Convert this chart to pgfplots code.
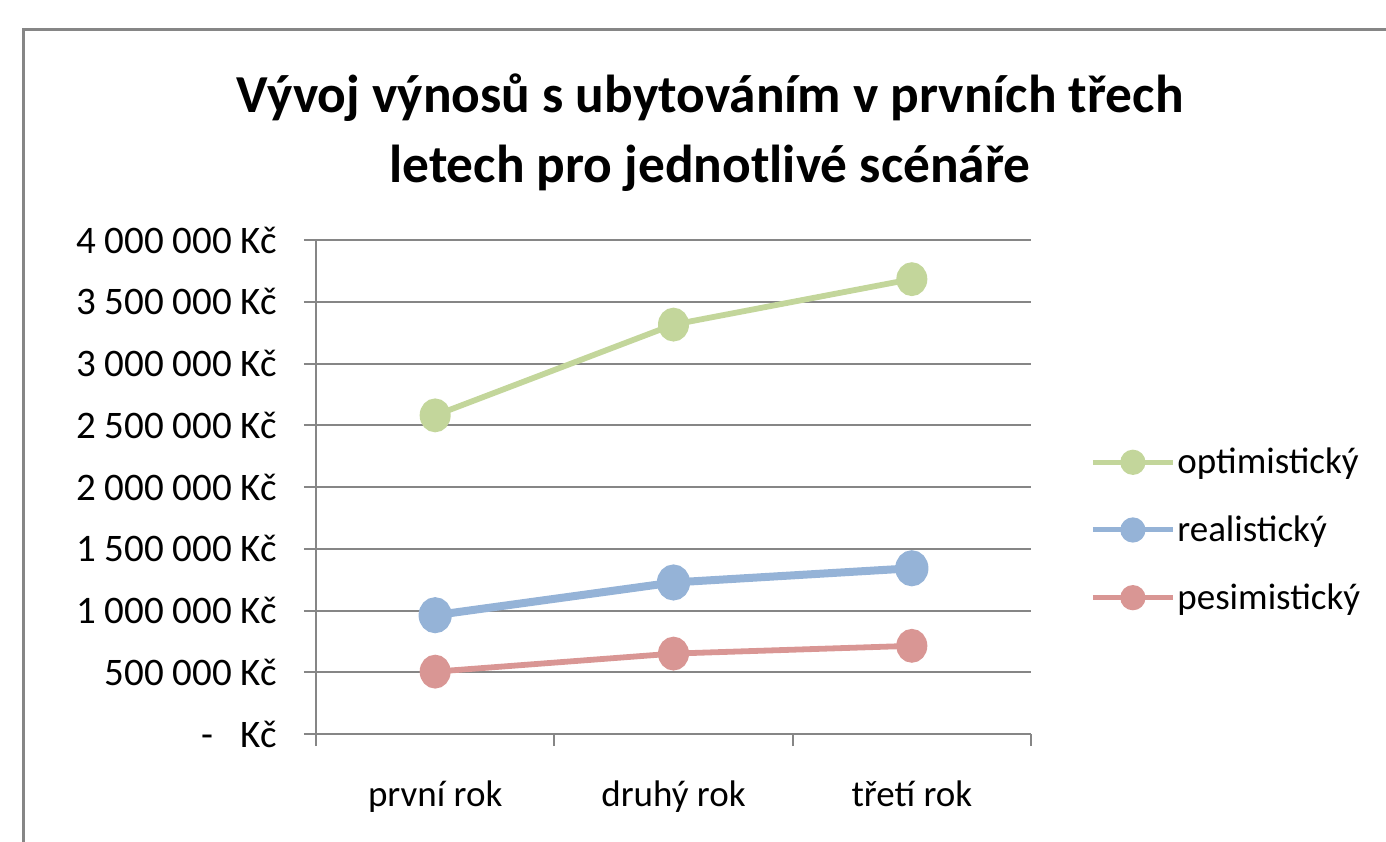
\documentclass[border=0pt]{standalone}
\usepackage{pgfplots}
\pgfplotsset{compat=1.18}
\usepackage{fontspec}
\setmainfont{Carlito}
\definecolor{optc}{RGB}{195,214,155}
\definecolor{realc}{RGB}{149,179,215}
\definecolor{pesc}{RGB}{217,150,148}
\definecolor{gridc}{RGB}{134,134,134}
\definecolor{framec}{RGB}{134,134,134}
\begin{document}
\begin{tikzpicture}[x=0.5pt,y=0.5pt]
\useasboundingbox (0,0) rectangle (1386,841);
\draw[color=framec, line width=1.5pt] (23,-10) -- (23,811) -- (1400,811);
\node[align=center, font=\fontsize{26.7}{35}\selectfont\bfseries] at (710,708) {Vývoj výnosů s ubytováním v prvních třech\\letech pro jednotlivé scénáře};
\begin{axis}[
  at={(158pt,53.5pt)}, anchor=south west,
  scale only axis, width=357.5pt, height=247pt,
  font=\fontsize{18.5}{22}\selectfont,
  xmin=0, xmax=3, ymin=0, ymax=4000000,
  scaled y ticks=false,
  axis x line*=bottom, axis y line*=left,
  axis line style={draw=gridc, line width=1pt},
  ymajorgrids, grid style={draw=gridc, line width=1pt},
  tick align=outside, major tick length=6pt,
  tick style={draw=gridc, line width=1pt},
  xtick={0,1,2,3},
  xticklabels={první rok, druhý rok, třetí rok},
  x tick label as interval,
  xticklabel style={yshift=-14pt},
  ytick={0,500000,1000000,1500000,2000000,2500000,3000000,3500000,4000000},
  yticklabels={{-\hspace{14pt}Kč},{500 000 Kč},{1 000 000 Kč},{1 500 000 Kč},{2 000 000 Kč},{2 500 000 Kč},{3 000 000 Kč},{3 500 000 Kč},{4 000 000 Kč}},
  yticklabel style={xshift=-10pt, font=\fontsize{19.5}{22}\selectfont},
  clip=false,
  legend style={at={(1.0825,0.413)}, anchor=west, draw=none, fill=none,
    font=\fontsize{18.5}{22}\selectfont, row sep=17.5pt, inner sep=0pt,
    nodes={inner sep=1pt}},
  legend cell align=left,
  legend image code/.code={\draw[mark repeat=2, mark phase=2, #1, line width=2.5pt, mark options={scale=0.72}] plot coordinates {(0pt,0pt) (20pt,0pt) (40pt,0pt)};},
]
\addplot[color=optc, line width=2.9pt, mark=*, mark size=7pt, mark options={fill=optc, draw=optc, xscale=0.9}]
  coordinates {(0.5,2580000) (1.5,3315000) (2.5,3683000)};
\addlegendentry{optimistický}
\addplot[color=realc, line width=4pt, mark=*, mark size=7pt, mark options={fill=realc, draw=realc, xscale=0.9}]
  coordinates {(0.5,962000) (1.5,1227000) (2.5,1342000)};
\addlegendentry{realistický}
\addplot[color=pesc, line width=2.9pt, mark=*, mark size=7pt, mark options={fill=pesc, draw=pesc, xscale=0.9}]
  coordinates {(0.5,505000) (1.5,651000) (2.5,714000)};
\addlegendentry{pesimistický}
\end{axis}
\end{tikzpicture}
\end{document}
